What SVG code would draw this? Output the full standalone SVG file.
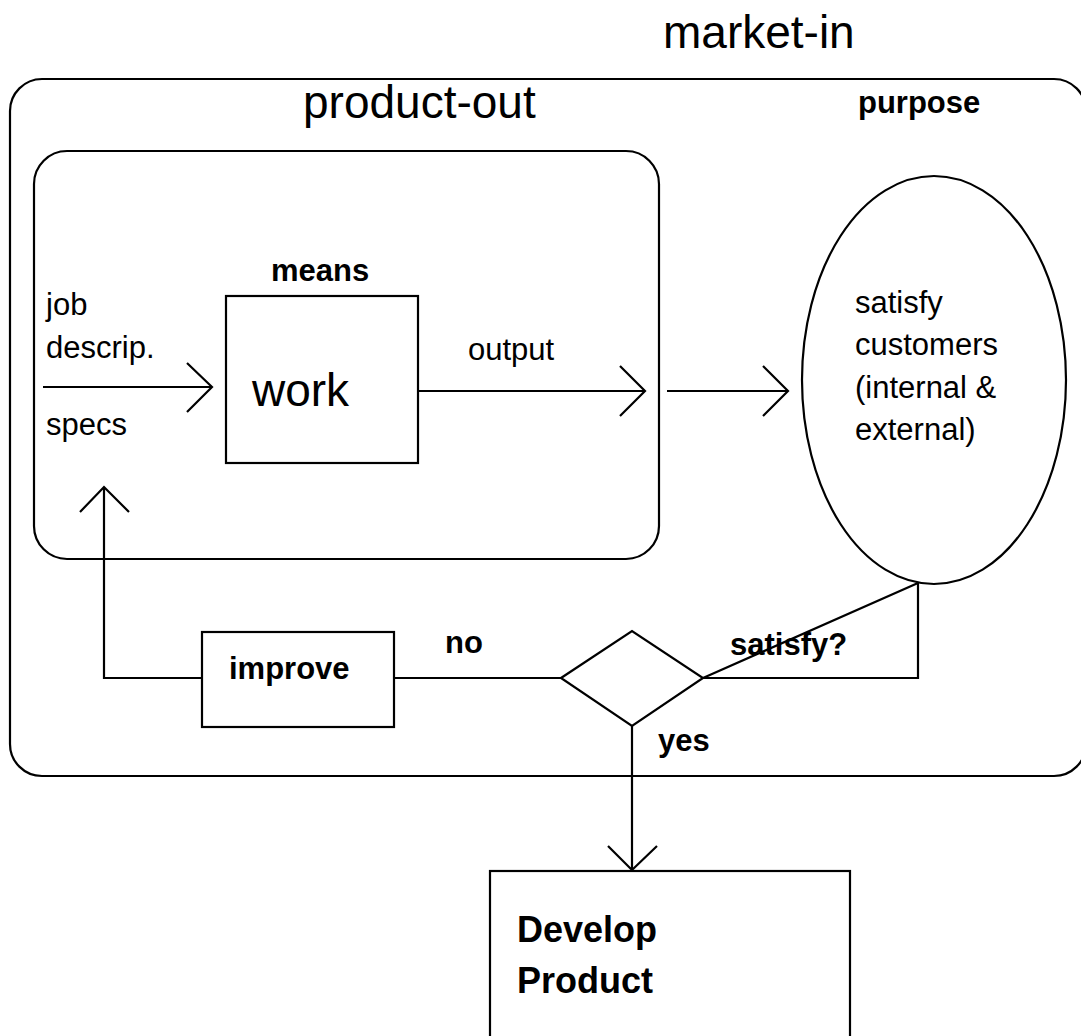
<svg xmlns="http://www.w3.org/2000/svg" width="1081" height="1036" viewBox="0 0 1081 1036">
  <style>
    .shape { fill: none; stroke: #000; stroke-width: 2.2; }
    .line { fill: none; stroke: #000; stroke-width: 2.2; stroke-linejoin: miter; }
    text { font-family: "Liberation Sans", Arial, sans-serif; fill: #000; }
    .big { font-size: 46px; }
    .small { font-size: 31px; }
    .bold { font-size: 31px; font-weight: bold; }
    .bold-lg { font-size: 36px; font-weight: bold; }
  </style>
  <rect width="1081" height="1036" fill="#fff"/>

  <!-- titles -->
  <text class="big" x="663" y="48">market-in</text>
  <text class="big" x="303" y="118">product-out</text>

  <!-- outer market-in frame -->
  <g id="market-in-frame">
    <rect class="shape" x="10" y="79" width="1076" height="697" rx="32" ry="32"/>
    <text class="bold" x="858" y="113">purpose</text>
  </g>

  <!-- inner product-out frame -->
  <g id="product-out-frame">
    <rect class="shape" x="34" y="151" width="625" height="408" rx="33" ry="33"/>
  </g>

  <!-- work node -->
  <g id="work">
    <rect class="shape" x="226" y="296" width="192" height="167"/>
    <text class="bold" x="271" y="281">means</text>
    <text class="big" x="252" y="406">work</text>
  </g>

  <!-- customers node -->
  <g id="customers">
    <ellipse class="shape" cx="934" cy="380" rx="132" ry="204"/>
    <text class="small" x="855" y="313">satisfy</text>
    <text class="small" x="855" y="355">customers</text>
    <text class="small" x="855" y="398">(internal &amp;</text>
    <text class="small" x="855" y="440">external)</text>
  </g>

  <!-- decision node -->
  <g id="decision">
    <polygon class="shape" points="561,678 632,631 703,678 632,726"/>
    <text class="bold" x="730" y="655">satisfy?</text>
  </g>

  <!-- improve node -->
  <g id="improve">
    <rect class="shape" x="202" y="632" width="192" height="95"/>
    <text class="bold" x="229" y="679">improve</text>
  </g>

  <!-- develop product node -->
  <g id="develop-product">
    <rect class="shape" x="490" y="871" width="360" height="175"/>
    <text class="bold-lg" x="517" y="942">Develop</text>
    <text class="bold-lg" x="517" y="993">Product</text>
  </g>

  <!-- input labels -->
  <g id="inputs">
    <text class="small" x="46" y="315">job</text>
    <text class="small" x="46" y="358">descrip.</text>
    <text class="small" x="46" y="435">specs</text>
  </g>

  <!-- connectors -->
  <g id="connectors">
    <!-- job description / specs into work -->
    <path class="line" d="M43,387 H212 M187,363 L212,387 L187,412"/>
    <!-- output of work -->
    <path class="line" d="M418,391 H645 M620,366 L645,391 L620,416"/>
    <text class="small" x="468" y="360">output</text>
    <!-- output on to the customers -->
    <path class="line" d="M667,391 H788 M763,366 L788,391 L763,416"/>
    <!-- customers back to the decision -->
    <path class="line" d="M918,583 V678 H703 L918,583"/>
    <!-- no branch: decision to improve -->
    <path class="line" d="M561,678 H394"/>
    <text class="bold" x="445" y="653">no</text>
    <!-- improve back into the inputs -->
    <path class="line" d="M202,678 H104 V487 M80,512 L104,487 L129,512"/>
    <!-- yes branch: decision to develop product -->
    <path class="line" d="M632,726 V870 M608,846 L632,870 L657,846"/>
    <text class="bold" x="658" y="751">yes</text>
  </g>
</svg>
